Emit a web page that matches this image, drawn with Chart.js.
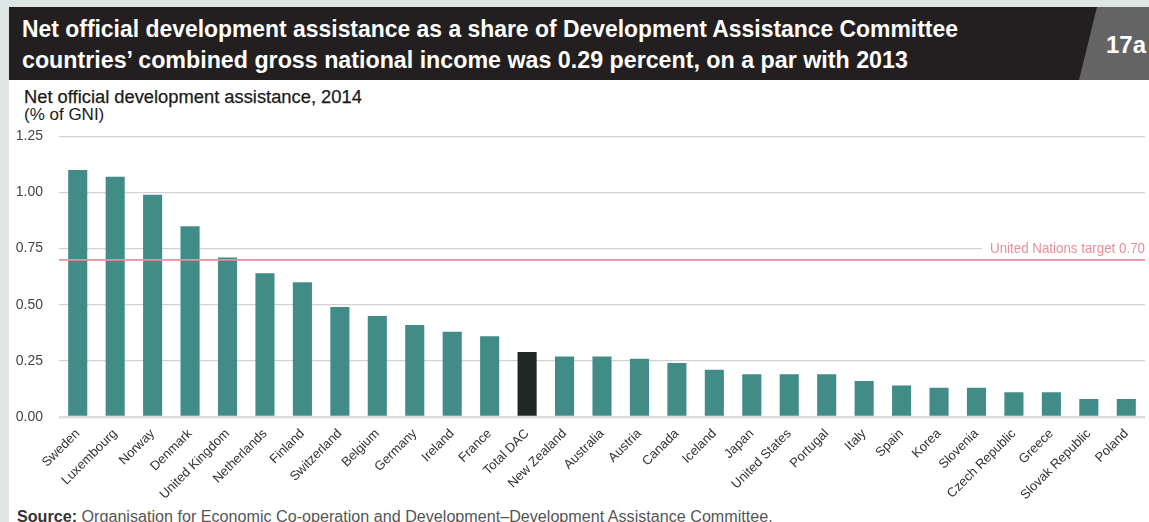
<!DOCTYPE html>
<html>
<head>
<meta charset="utf-8">
<script src="https://cdn.jsdelivr.net/npm/chart.js@4.4.1/dist/chart.umd.min.js"></script>
<style>
  html, body { margin: 0; padding: 0; }
  body { width: 1149px; height: 522px; overflow: hidden; background: #ffffff; position: relative; font-family: "Liberation Sans", Arial, sans-serif; }
  #bandTop { position: absolute; left: 0; top: 0; width: 1149px; height: 7px; background: #dde6e4; }
  #bandLeft { position: absolute; left: 0; top: 0; width: 9px; height: 522px; background: #dde6e4; }
  #header { position: absolute; left: 9px; top: 7px; width: 1140px; height: 73px; background: #231f20; }
  #tag { position: absolute; left: 1079px; top: 7px; width: 70px; height: 73px; background: #646464;
         clip-path: polygon(18px 0, 70px 0, 70px 73px, 0 73px); }
  #tagText { position: absolute; left: 1106px; top: 31px; color: #fff; font-weight: bold; font-size: 24px; line-height: 28px; white-space: nowrap; }
  .t { position: absolute; white-space: nowrap; transform-origin: 0 0; }
  #title1 { left: 22px; top: 16px; color: #fff; font-weight: bold; font-size: 23px; line-height: 26px; }
  #title2 { left: 22px; top: 47px; color: #fff; font-weight: bold; font-size: 23px; line-height: 26px; }
  #sub1 { left: 24px; top: 88px; color: #1a1a1a; font-size: 18px; line-height: 18px; -webkit-text-stroke: 0.25px #1a1a1a; }
  #sub2 { left: 24px; top: 106px; color: #1a1a1a; font-size: 17px; line-height: 18px; }
  #source { left: 17px; top: 508px; color: #555; font-size: 16px; line-height: 18px; }
  #source b { color: #333; }
  #wrap { position: absolute; left: 0; top: 112px; width: 1149px; height: 393px; }
</style>
</head>
<body>
<div id="bandTop"></div>
<div id="bandLeft"></div>
<div id="header"></div>
<div id="tag"></div>
<div id="tagText">17a</div>
<div class="t" id="title1">Net official development assistance as a share of Development Assistance Committee</div>
<div class="t" id="title2">countries’ combined gross national income was 0.29 percent, on a par with 2013</div>
<div class="t" id="sub1">Net official development assistance, 2014</div>
<div class="t" id="sub2">(% of GNI)</div>
<div class="t" id="source"><b>Source:</b> Organisation for Economic Co-operation and Development–Development Assistance Committee.</div>
<div id="wrap"><canvas id="c" width="1149" height="393"></canvas></div>
<script>
const categories = ["Sweden", "Luxembourg", "Norway", "Denmark", "United Kingdom", "Netherlands", "Finland", "Switzerland", "Belgium", "Germany", "Ireland", "France", "Total DAC", "New Zealand", "Australia", "Austria", "Canada", "Iceland", "Japan", "United States", "Portugal", "Italy", "Spain", "Korea", "Slovenia", "Czech Republic", "Greece", "Slovak Republic", "Poland"];
const odaShare = [1.10, 1.07, 0.99, 0.85, 0.71, 0.64, 0.60, 0.49, 0.45, 0.41, 0.38, 0.36, 0.29, 0.27, 0.27, 0.26, 0.24, 0.21, 0.19, 0.19, 0.19, 0.16, 0.14, 0.13, 0.13, 0.11, 0.11, 0.08, 0.08];
const highlightCategory = "Total DAC";
const yTickValues = [0, 0.25, 0.50, 0.75, 1.00, 1.25];
const unTarget = 0.70;
const unLabel = "United Nations target 0.70";

function fit(id, target) {
  const el = document.getElementById(id);
  const w = el.scrollWidth;
  el.style.transform = 'scaleX(' + (target / w) + ')';
}
fit('title1', 936);
fit('title2', 886);
fit('sub1', 338);
fit('sub2', 80);
fit('source', 756);

const teal = '#428c88';
const dark = '#202826';
const barColors = categories.map(c => c === highlightCategory ? dark : teal);

const unPlugin = {
  id: 'unTarget',
  afterDraw(chart) {
    const { ctx, chartArea, scales } = chart;
    const y = scales.y.getPixelForValue(unTarget);
    ctx.save();
    ctx.font = '15px "Liberation Sans", Arial, sans-serif';
    const tw = ctx.measureText(unLabel).width;
    const targetW = 155;
    const sx = targetW / tw;
    const right = chartArea.right;
    const yl = scales.y.getPixelForValue(0.75);
    ctx.fillStyle = '#ffffff';
    ctx.fillRect(right - targetW - 8, yl - 7, targetW + 10, 14);
    ctx.translate(right - targetW, y - 7);
    ctx.scale(sx, 1);
    ctx.fillStyle = '#e88d9a';
    ctx.textBaseline = 'alphabetic';
    ctx.textAlign = 'left';
    ctx.fillText(unLabel, 0, 0);
    ctx.restore();
    ctx.save();
    ctx.strokeStyle = '#e8909c';
    ctx.lineWidth = 1.6;
    ctx.beginPath();
    ctx.moveTo(chartArea.left, y);
    ctx.lineTo(chartArea.right, y);
    ctx.stroke();
    ctx.restore();
  }
};

new Chart(document.getElementById('c'), {
  type: 'bar',
  data: {
    labels: categories,
    datasets: [{
      data: odaShare,
      backgroundColor: barColors,
      borderWidth: 0,
      barPercentage: 0.51,
      categoryPercentage: 1.0
    }]
  },
  options: {
    responsive: false,
    animation: false,
    devicePixelRatio: 1,
    layout: { padding: { top: 10, right: 4, left: 0, bottom: 0 } },
    plugins: { legend: { display: false }, tooltip: { enabled: false } },
    scales: {
      x: {
        grid: { display: false },
        border: { display: false },
        ticks: {
          autoSkip: false,
          maxRotation: 45,
          minRotation: 45,
          padding: 1,
          color: '#333',
          font: { family: '"Liberation Sans", Arial, sans-serif', size: 13 }
        },
        afterFit(s) { s.height = 88; }
      },
      y: {
        min: 0,
        max: 1.25,
        afterBuildTicks(s) { s.ticks = yTickValues.map(v => ({ value: v })); },
        border: { display: false },
        grid: {
          drawTicks: false,
          color: (c) => c.tick && c.tick.value === 0 ? '#dcdcdc' : '#d2d2d2',
          lineWidth: (c) => c.tick && c.tick.value === 0 ? 2.5 : 1.3
        },
        ticks: {
          padding: 16,
          color: '#444',
          font: { family: '"Liberation Sans", Arial, sans-serif', size: 14 },
          callback: (v) => Number(v).toFixed(2)
        },
        afterFit(s) { s.width = 59; }
      }
    }
  },
  plugins: [unPlugin]
});
</script>
</body>
</html>
